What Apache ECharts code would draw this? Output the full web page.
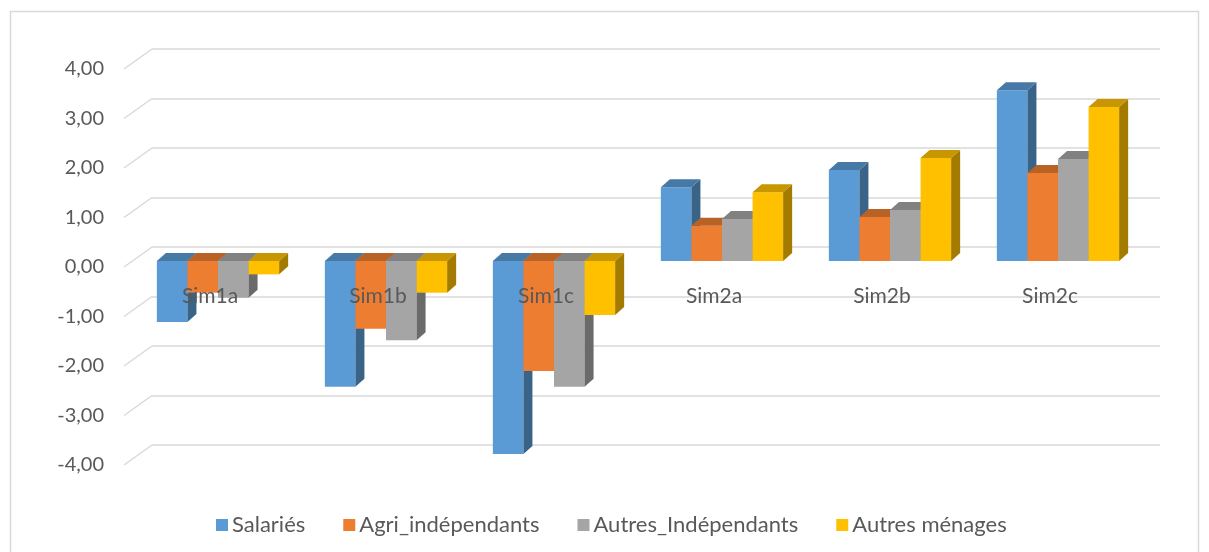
<!DOCTYPE html>
<html>
<head>
<meta charset="utf-8">
<script src="https://cdn.jsdelivr.net/npm/echarts@6/dist/echarts.min.js"></script>
<style>
  html, body { margin: 0; padding: 0; background: #fff; }
  #chart { width: 1209px; height: 552px; }
</style>
</head>
<body>
<div id="chart"></div>
<script>
// données
const categories = ['Sim1a', 'Sim1b', 'Sim1c', 'Sim2a', 'Sim2b', 'Sim2c'];
const seriesNames = ['Salariés', 'Agri_indépendants', 'Autres_Indépendants', 'Autres ménages'];
const salaries = [-1.23, -2.54, -3.90, 1.49, 1.84, 3.45];
const agriIndep = [-0.64, -1.37, -2.22, 0.71, 0.89, 1.78];
const autresIndep = [-0.74, -1.60, -2.54, 0.85, 1.03, 2.06];
const autresMenages = [-0.27, -0.64, -1.09, 1.39, 2.08, 3.11];
const yTicks = [-4, -3, -2, -1, 0, 1, 2, 3, 4];

const values = [salaries, agriIndep, autresIndep, autresMenages];
const colors = ['#5B9BD5', '#ED7D31', '#A5A5A5', '#FFC000'];
const font = 'Lato';
const txt = '#595959';
const gridCol = '#D9D9D9';

// ombrage des faces
function shade(hex, k) {
    const n = parseInt(hex.slice(1), 16);
    const r = Math.round(((n >> 16) & 255) * k), g = Math.round(((n >> 8) & 255) * k), b = Math.round((n & 255) * k);
    return 'rgb(' + r + ',' + g + ',' + b + ')';
}

const DX = 9, DY = 8;      // profondeur des barres
const BAR_RATIO = 0.182;   // largeur barre / largeur catégorie

function barRenderer(idx) {
    return function (params, api) {
        const cat = api.value(0), val = api.value(1);
        const base = api.coord([cat, 0]);
        const tip = api.coord([cat, val]);
        const band = api.size([1, 0])[0];
        const bw = band * BAR_RATIO;
        const x0 = base[0] - 2 * bw + idx * bw;
        const yTop = Math.min(base[1], tip[1]);
        const yBot = Math.max(base[1], tip[1]);
        const c = colors[idx];
        return {
            type: 'group',
            children: [
                {type: 'rect', shape: {x: x0, y: yTop, width: bw, height: yBot - yTop}, style: {fill: c}},
                {type: 'polygon', shape: {points: [[x0 + bw, yTop], [x0 + bw + DX, yTop - DY], [x0 + bw + DX, yBot - DY], [x0 + bw, yBot]]}, style: {fill: shade(c, 0.64)}},
                {type: 'polygon', shape: {points: [[x0, yTop], [x0 + DX, yTop - DY], [x0 + bw + DX, yTop - DY], [x0 + bw, yTop]]}, style: {fill: shade(c, 0.78)}}
            ]
        };
    };
}

const barSeries = seriesNames.map((name, i) => ({
    name: name,
    type: 'custom',
    xAxisIndex: 2,
    yAxisIndex: 2,
    itemStyle: {color: colors[i]},
    renderItem: barRenderer(i),
    data: values[i].map((v, j) => [j, v]),
    z: 3 + i
}));

// diagonales du plancher / mur
const diagSeries = {
    type: 'custom',
    xAxisIndex: 1,
    yAxisIndex: 1,
    silent: true,
    z: 1,
    renderItem: function (params, api) {
        const a = api.coord([0, api.value(0)]);
        const b = api.coord([1, api.value(0)]);
        return {type: 'line', shape: {x1: a[0], y1: a[1], x2: b[0], y2: a[1] - 20}, style: {stroke: gridCol, lineWidth: 1.5}};
    },
    data: yTicks.map(v => [v])
};

const chart = echarts.init(document.getElementById('chart'));
chart.setOption({
    animation: false,
    graphic: [{
        type: 'rect', shape: {x: 10.5, y: 11.5, width: 1188, height: 560},
        style: {fill: 'none', stroke: gridCol, lineWidth: 1.5}, silent: true
    }],
    legend: {
        left: 211, top: 509,
        icon: 'rect', itemWidth: 12, itemHeight: 12, itemGap: 38,
        textStyle: {color: txt, fontFamily: font, fontSize: 22, padding: [0, 0, 0, -1]},
        data: seriesNames
    },
    grid: [
        {left: 152, right: 49, top: 49, height: 396},   // mur du fond
        {left: 124, width: 28, top: 69, height: 396},   // bord avant
        {left: 134, right: 67, top: 63, height: 396}    // plan des barres
    ],
    xAxis: [
        {gridIndex: 0, type: 'value', min: 0, max: 1, show: false},
        {gridIndex: 1, type: 'value', min: 0, max: 1, show: false},
        {
            gridIndex: 2, type: 'category', data: categories, z: 20,
            position: 'bottom', offset: -198,
            axisLine: {show: false}, axisTick: {show: false},
            axisLabel: {color: txt, fontFamily: font, fontSize: 21, margin: 25, padding: [0, 16, 0, 0]}
        }
    ],
    yAxis: [
        {
            gridIndex: 0, type: 'value', min: -4, max: 4, interval: 1,
            axisLabel: {show: false}, axisLine: {show: false}, axisTick: {show: false},
            splitLine: {lineStyle: {color: gridCol, width: 1.5}}
        },
        {
            gridIndex: 1, type: 'value', min: -4, max: 4, interval: 1,
            axisLine: {show: false}, axisTick: {show: false}, splitLine: {show: false},
            axisLabel: {
                color: txt, fontFamily: font, fontSize: 20, margin: 20,
                formatter: v => v.toFixed(2).replace('.', ',')
            }
        },
        {gridIndex: 2, type: 'value', min: -4, max: 4, interval: 1, show: false}
    ],
    series: [diagSeries].concat(barSeries)
});
</script>
</body>
</html>
